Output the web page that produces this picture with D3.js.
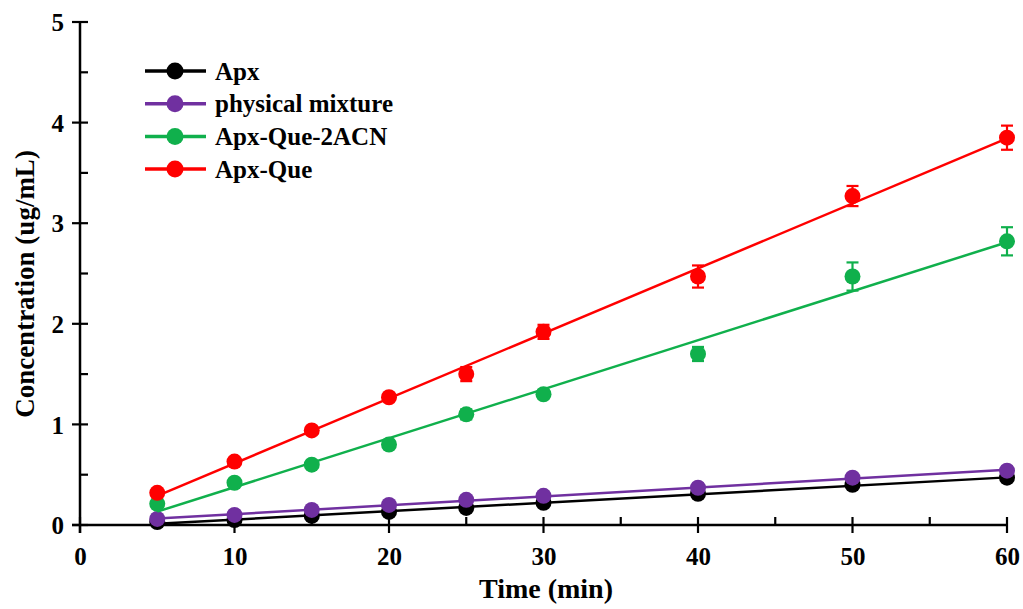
<!DOCTYPE html>
<html>
<head>
<meta charset="utf-8">
<script src="https://cdn.jsdelivr.net/npm/d3@7"></script>
<style>
  html, body { margin: 0; padding: 0; background: #fff; }
  svg { display: block; font-family: "Liberation Serif", "Times New Roman", serif; font-weight: bold; }
</style>
</head>
<body>
<svg id="chart" width="1023" height="609"></svg>
<script>
"use strict";

// sampling times (min)
var times = [5, 10, 15, 20, 25, 30, 40, 50, 60];

var seriesNames = ['Apx', 'physical mixture', 'Apx-Que-2ACN', 'Apx-Que'];
var seriesColors = ['#000000', '#7030a0', '#10b04c', '#ff0000'];

// concentration (ug/mL)
var apx = [0.03, 0.05, 0.09, 0.13, 0.17, 0.22, 0.31, 0.40, 0.47];
var physicalMixture = [0.06, 0.10, 0.15, 0.20, 0.25, 0.29, 0.37, 0.47, 0.54];
var apxQue2ACN = [0.21, 0.42, 0.60, 0.80, 1.10, 1.30, 1.70, 2.47, 2.82];
var apxQue = [0.32, 0.63, 0.94, 1.27, 1.50, 1.92, 2.47, 3.27, 3.85];

// standard deviations
var apxErr = [0.01, 0.01, 0.01, 0.01, 0.01, 0.01, 0.01, 0.01, 0.01];
var physicalMixtureErr = [0.01, 0.01, 0.01, 0.01, 0.01, 0.01, 0.01, 0.01, 0.01];
var apxQue2ACNErr = [0.02, 0.02, 0.02, 0.02, 0.05, 0.04, 0.07, 0.14, 0.14];
var apxQueErr = [0.02, 0.02, 0.02, 0.03, 0.07, 0.07, 0.11, 0.10, 0.12];

var xTicks = [0, 10, 20, 30, 40, 50, 60];
var yTicks = [0, 1, 2, 3, 4, 5];

var series = [
    {name: seriesNames[0], color: seriesColors[0], values: apx, errors: apxErr},
    {name: seriesNames[1], color: seriesColors[1], values: physicalMixture, errors: physicalMixtureErr},
    {name: seriesNames[2], color: seriesColors[2], values: apxQue2ACN, errors: apxQue2ACNErr},
    {name: seriesNames[3], color: seriesColors[3], values: apxQue, errors: apxQueErr}
];

var margin = {left: 80, top: 22, right: 16, bottom: 84};
var width = 1023, height = 609;
var serif = 'Liberation Serif, Times New Roman, serif';

var svg = d3.select('#chart');

var x = d3.scaleLinear().domain([0, 60]).range([margin.left, width - margin.right]);
var y = d3.scaleLinear().domain([0, 5]).range([height - margin.bottom, margin.top]);

// least-squares fit
function linearFit(xs, ys) {
    var mx = d3.mean(xs), my = d3.mean(ys);
    var sxy = d3.sum(xs, function(d, i) { return (d - mx) * (ys[i] - my); });
    var sxx = d3.sum(xs, function(d) { return (d - mx) * (d - mx); });
    var slope = sxy / sxx;
    return {slope: slope, intercept: my - slope * mx};
}

// axes
var axisG = svg.append('g').attr('stroke', '#000');

var xAxis = svg.append('g')
    .attr('transform', 'translate(0,' + y(0) + ')')
    .call(d3.axisBottom(x).tickValues(xTicks).tickSize(0).tickPadding(22).tickFormat(d3.format('d')));
xAxis.select('.domain').attr('stroke-width', 2.5).attr('d', 'M' + (x(0) - 8) + ',0H' + x(60));
xAxis.selectAll('.tick text')
    .attr('font-size', 25).attr('font-weight', 'bold').attr('font-family', serif);

var yAxis = svg.append('g')
    .attr('transform', 'translate(' + x(0) + ',0)')
    .call(d3.axisLeft(y).tickValues(yTicks).tickSize(0).tickPadding(16).tickFormat(d3.format('d')));
yAxis.select('.domain').attr('stroke-width', 2.5).attr('d', 'M0,' + y(5) + 'V' + (y(0) + 8));
yAxis.selectAll('.tick text')
    .attr('font-size', 25).attr('font-weight', 'bold').attr('font-family', serif).attr('dy', '0.35em');

// major ticks cross the axis, minor ticks point inward
d3.range(0, 61, 5).forEach(function(v) {
    var major = v % 10 === 0;
    axisG.append('line')
        .attr('x1', x(v)).attr('x2', x(v))
        .attr('y1', y(0) + (major ? 8 : 0)).attr('y2', y(0) - 8)
        .attr('stroke-width', 2.2);
});
d3.range(0, 5.01, 0.5).forEach(function(v) {
    var major = Math.abs(v - Math.round(v)) < 1e-6;
    axisG.append('line')
        .attr('x1', x(0) - (major ? 8 : 0)).attr('x2', x(0) + 8)
        .attr('y1', y(v)).attr('y2', y(v))
        .attr('stroke-width', 2.2);
});

// axis titles
svg.append('text')
    .attr('x', 546).attr('y', 598)
    .attr('text-anchor', 'middle')
    .attr('font-size', 28)
    .text('Time (min)');

svg.append('text')
    .attr('transform', 'translate(34,284) rotate(-90)')
    .attr('text-anchor', 'middle')
    .attr('font-size', 27)
    .text('Concentration (ug/mL)');

// series: fit line, error bars, markers
var plot = svg.append('g');

series.forEach(function(s) {
    var fit = linearFit(times, s.values);
    var g = plot.append('g');
    var t0 = d3.min(times), t1 = d3.max(times);

    g.append('line')
        .attr('x1', x(t0)).attr('y1', y(fit.intercept + fit.slope * t0))
        .attr('x2', x(t1)).attr('y2', y(fit.intercept + fit.slope * t1))
        .attr('stroke', s.color)
        .attr('stroke-width', 2.5);

    var pts = times.map(function(t, i) { return {t: t, v: s.values[i], e: s.errors[i]}; });

    var eb = g.selectAll('.err').data(pts).enter().append('g').attr('class', 'err')
        .attr('stroke', s.color).attr('stroke-width', 2.2);
    eb.append('line')
        .attr('x1', function(d) { return x(d.t); }).attr('x2', function(d) { return x(d.t); })
        .attr('y1', function(d) { return y(d.v - d.e); }).attr('y2', function(d) { return y(d.v + d.e); });
    eb.append('line')
        .attr('x1', function(d) { return x(d.t) - 6; }).attr('x2', function(d) { return x(d.t) + 6; })
        .attr('y1', function(d) { return y(d.v + d.e); }).attr('y2', function(d) { return y(d.v + d.e); });
    eb.append('line')
        .attr('x1', function(d) { return x(d.t) - 6; }).attr('x2', function(d) { return x(d.t) + 6; })
        .attr('y1', function(d) { return y(d.v - d.e); }).attr('y2', function(d) { return y(d.v - d.e); });

    g.selectAll('circle').data(pts).enter().append('circle')
        .attr('cx', function(d) { return x(d.t); })
        .attr('cy', function(d) { return y(d.v); })
        .attr('r', 8)
        .attr('fill', s.color);
});

// legend
var legend = svg.append('g').attr('transform', 'translate(145,71)');
var rows = legend.selectAll('g').data(series).enter().append('g')
    .attr('transform', function(d, i) { return 'translate(0,' + (i * 32.7) + ')'; });
rows.append('line')
    .attr('x1', 0).attr('x2', 61)
    .attr('stroke', function(d) { return d.color; })
    .attr('stroke-width', 3.5);
rows.append('circle')
    .attr('cx', 30).attr('r', 8.5)
    .attr('fill', function(d) { return d.color; });
rows.append('text')
    .attr('x', 70).attr('dy', '0.35em')
    .attr('font-size', 25)
    .text(function(d) { return d.name; });
</script>
</body>
</html>
